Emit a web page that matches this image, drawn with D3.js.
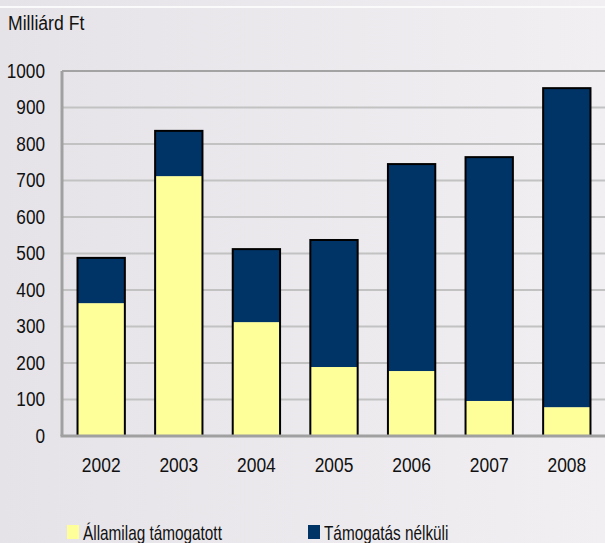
<!DOCTYPE html>
<meta charset="utf-8">
<style>
body { margin: 0; }
text { font-family: "Liberation Sans", Arial, sans-serif; fill: #111; }
</style>
<body>
<script src="https://cdn.jsdelivr.net/npm/d3@7"></script>
<script>

// data (Milliárd Ft)
var years = ["2002", "2003", "2004", "2005", "2006", "2007", "2008"];
var allami = [364, 712, 312, 189, 178, 96, 79];
var nelkuli = [124, 124, 200, 348, 567, 668, 874];
var yTicks = [0, 100, 200, 300, 400, 500, 600, 700, 800, 900, 1000];
var seriesNames = ["Államilag támogatott", "Támogatás nélküli"];
var colors = ["#ffff99", "#003366"];

var W = 605, H = 543;
var margin = {top: 71, right: -1, bottom: 107, left: 62},
    width = W - margin.left - margin.right,
    height = H - margin.top - margin.bottom;

// the original uses a narrow font: squeeze the text horizontally
function narrow(sel, k) {
  sel.each(function() {
    var w = this.getComputedTextLength();
    d3.select(this).attr("textLength", w * k).attr("lengthAdjust", "spacingAndGlyphs");
  });
}

var svg = d3.select("body").append("svg")
    .attr("width", W)
    .attr("height", H);

// background
var grad = svg.append("defs").append("linearGradient").attr("id", "bg");
grad.append("stop").attr("offset", "0%").attr("stop-color", "#e5e3e7");
grad.append("stop").attr("offset", "100%").attr("stop-color", "#f1eff2");
svg.append("rect").attr("width", W).attr("height", H).attr("fill", "url(#bg)");
svg.append("line").attr("x1", 0).attr("x2", W).attr("y1", 7).attr("y2", 7)
    .attr("stroke", "#fafafa").attr("stroke-width", 2);

svg.append("text").attr("x", 8).attr("y", 30).text("Milliárd Ft")
    .style("font-size", "20px").call(narrow, 0.88);

var g = svg.append("g")
    .attr("transform", "translate(" + margin.left + "," + margin.top + ")");

var x = d3.scaleBand().domain(years).range([0, width]).paddingInner(0.39).paddingOuter(0.2);
var y = d3.scaleLinear().domain([0, 1000]).range([height, 0]);

// gridlines
g.selectAll(".grid").data(yTicks.slice(1)).enter().append("line")
    .attr("x1", 0).attr("x2", width)
    .attr("y1", function(d) { return y(d); })
    .attr("y2", function(d) { return y(d); })
    .attr("stroke", function(d) { return d == 1000 ? "#a3a3a3" : "#c2c2c2"; })
    .attr("stroke-width", 2);

// stacked bars
var table = years.map(function(yr, i) { return {year: yr, a: allami[i], b: nelkuli[i]}; });
var stacked = d3.stack().keys(["a", "b"])(table);

var layers = g.selectAll(".layer").data(stacked).enter().append("g")
    .attr("fill", function(d, i) { return colors[i]; });

layers.selectAll("rect").data(function(d) { return d; }).enter().append("rect")
    .attr("x", function(d) { return x(d.data.year); })
    .attr("width", x.bandwidth())
    .attr("y", function(d) { return y(d[1]); })
    .attr("height", function(d) { return y(d[0]) - y(d[1]); });

// outline of each bar
g.selectAll(".outline").data(table).enter().append("rect")
    .attr("x", function(d) { return x(d.year); })
    .attr("width", x.bandwidth())
    .attr("y", function(d) { return y(d.a + d.b); })
    .attr("height", function(d) { return y(0) - y(d.a + d.b); })
    .attr("fill", "none")
    .attr("stroke", "#000")
    .attr("stroke-width", 2);

// axes
var yAxis = g.append("g")
    .call(d3.axisLeft(y).tickValues(yTicks).tickFormat(d3.format("d")).tickSize(0).tickPadding(17));
yAxis.select(".domain").remove();
yAxis.selectAll("text").style("font-size", "20px").attr("fill", "#111").call(narrow, 0.86);

g.append("line").attr("x1", 0).attr("x2", 0).attr("y1", 0).attr("y2", height)
    .attr("stroke", "#a0a0a0").attr("stroke-width", 3);
g.append("line").attr("x1", -1.5).attr("x2", width).attr("y1", height).attr("y2", height)
    .attr("stroke", "#a0a0a0").attr("stroke-width", 3);

var xAxis = g.append("g").attr("transform", "translate(0," + height + ")")
    .call(d3.axisBottom(x).tickSize(0).tickPadding(22));
xAxis.select(".domain").remove();
xAxis.selectAll("text").style("font-size", "20px").attr("fill", "#111").call(narrow, 0.87);

// legend
var legX = [67, 308];
seriesNames.forEach(function(name, i) {
  svg.append("rect").attr("x", legX[i]).attr("y", 525).attr("width", 12).attr("height", 14)
      .attr("fill", colors[i]);
  svg.append("text").attr("x", legX[i] + 16).attr("y", 540).text(name)
      .style("font-size", "21px").call(narrow, 0.73);
});

</script>
</body>
